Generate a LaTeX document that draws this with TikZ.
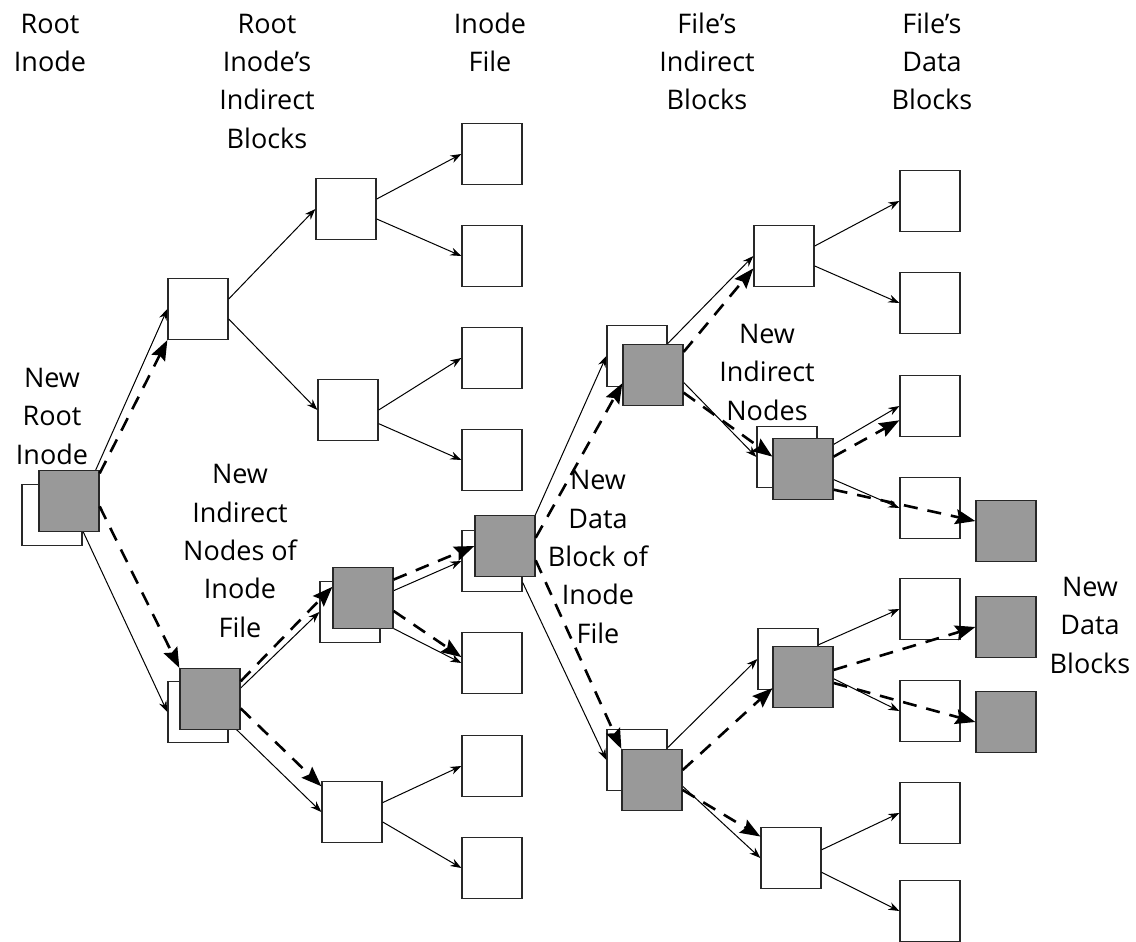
\documentclass[tikz,border=0pt]{standalone}
\usepackage{fontspec}
\setmainfont{Open Sans}
\usetikzlibrary{arrows.meta}
\definecolor{newgray}{RGB}{153,153,153}
\definecolor{edgegray}{RGB}{40,40,40}
\begin{document}
\begin{tikzpicture}[x=1pt,y=-1pt,
    blk/.style={draw=edgegray,line width=1.3pt,fill=white,minimum width=60pt,minimum height=61pt,inner sep=0pt},
    newblk/.style={blk,fill=newgray},
    lbl/.style={align=center,anchor=base,inner sep=0pt,font=\fontsize{27}{38.3}\selectfont},
    ptr/.style={line width=1pt,-{Stealth[length=11pt,width=8pt]}},
    newptr/.style={line width=2.6pt,dash pattern=on 14pt off 10pt,-{Stealth[length=20pt,width=15pt,inset=3pt]}}]
  \useasboundingbox (0,0) rectangle (1136,942);

  % Titulos (base = ultima linea)
  \node[lbl] (hroot) at (50,72) {Root\\Inode};
  \node[lbl] (hrootind) at (267,148) {Root\\Inode’s\\Indirect\\Blocks};
  \node[lbl] (hinode) at (490,72) {Inode\\File};
  \node[lbl] (hfileind) at (707,110) {File’s\\Indirect\\Blocks};
  \node[lbl] (hdata) at (932,110) {File’s\\Data\\Blocks};

  % Bloques antiguos
  \node[blk] (r) at (52,515) {};
  \node[blk] (a1) at (198,309) {};
  \node[blk] (a2) at (198,712) {};
  \node[blk] (b1) at (346,209) {};
  \node[blk] (b2) at (348,410) {};
  \node[blk] (b3) at (350,612) {};
  \node[blk] (b4) at (352,812) {};
  \foreach \y [count=\i] in {154,256,358,460,561,663,766,868}
    \node[blk] (c\i) at (492,\y) {};
  \node[blk] (d1) at (637,356) {};
  \node[blk] (d2) at (637,760) {};
  \node[blk] (e1) at (784,256) {};
  \node[blk] (e2) at (787,457) {};
  \node[blk] (e3) at (788,659) {};
  \node[blk] (e4) at (791,858) {};
  \foreach \y [count=\i] in {201,303,406,508,609,711,813,911}
    \node[blk] (f\i) at (930,\y) {};

  % Punteros antiguos
  \begin{scope}[ptr]
    \draw (r.27) -- (a1.west);
    \draw (r.-27) -- (a2.west);
    \draw (a1.18) -- (b1.west);
    \draw (a1.-18) -- (b2.west);
    \draw (a2.22) -- (b3.west);
    \draw (a2.-18) -- (b4.west);
    \draw (b1.18) -- (c1.west);
    \draw (b1.-18) -- (c2.west);
    \draw (b2.east) -- (c3.west);
    \draw (b2.-24) -- (c4.west);
    \draw (b3.27) -- (c5.west);
    \draw (b3.-18) -- (c6.west);
    \draw (b4.17) -- (c7.west);
    \draw (b4.-18) -- (c8.west);
    \draw (c5.30) -- (d1.west);
    \draw (c5.-35) -- (d2.west);
    \draw (d1.22) -- (e1.west);
    \draw (d1.-18) -- (e2.west);
    \draw (d2.22) -- (e3.west);
    \draw (d2.-22) -- (e4.west);
    \draw (e1.18) -- (f1.west);
    \draw (e1.-18) -- (f2.west);
    \draw (e2.6) -- (f3.west);
    \draw (e2.-27) -- (f4.west);
    \draw (e3.25) -- (f5.west);
    \draw (e3.-22) -- (f6.west);
    \draw (e4.15) -- (f7.west);
    \draw (e4.-25) -- (f8.west);
  \end{scope}

  % Bloques nuevos
  \node[newblk] (rn) at (69,501) {};
  \node[newblk] (a2n) at (210,699) {};
  \node[newblk] (b3n) at (363,598) {};
  \node[newblk] (c5n) at (505,546) {};
  \node[newblk] (d1n) at (653,375) {};
  \node[newblk] (d2n) at (652,780) {};
  \node[newblk] (e2n) at (803,469) {};
  \node[newblk] (e3n) at (803,677) {};
  \node[newblk] (g1) at (1006,531) {};
  \node[newblk] (g2) at (1006,627) {};
  \node[newblk] (g3) at (1006,722) {};

  % Punteros nuevos
  \begin{scope}[newptr]
    \draw (rn.42) -- (a1.south west);
    \draw (rn.-10) -- (a2n.north west);
    \draw (a2n.30) -- (b3n.160);
    \draw (a2n.-17) -- (b4.140);
    \draw (b3n.31) -- (c5n.west);
    \draw (b3n.-23) -- (c6.169);
    \draw (c5n.15) -- (d1n.195);
    \draw (c5n.-25) -- (d2n.north west);
    \draw (d1n.37) -- (e1.202);
    \draw (d1n.-30) -- (e2n.158);
    \draw (d2n.18) -- (e3n.200);
    \draw (d2n.-18) -- (e4.145);
    \draw (e2n.22) -- (f3.205);
    \draw (e2n.-34) -- (g1.162);
    \draw (e3n.13) -- (g2.west);
    \draw (e3n.-11) -- (g3.west);
  \end{scope}

  % Rotulos (base = ultima linea)
  \node[lbl] (lnewroot) at (52,464) {New\\Root\\Inode};
  \node[lbl] (lnewind) at (240,637) {New\\Indirect\\Nodes of\\Inode\\File};
  \node[lbl] (lnewdata) at (598,643) {New\\Data\\Block of\\Inode\\File};
  \node[lbl] (lnewfind) at (767,420) {New\\Indirect\\Nodes};
  \node[lbl] (lnewblk) at (1090,673) {New\\Data\\Blocks};
\end{tikzpicture}
\end{document}
